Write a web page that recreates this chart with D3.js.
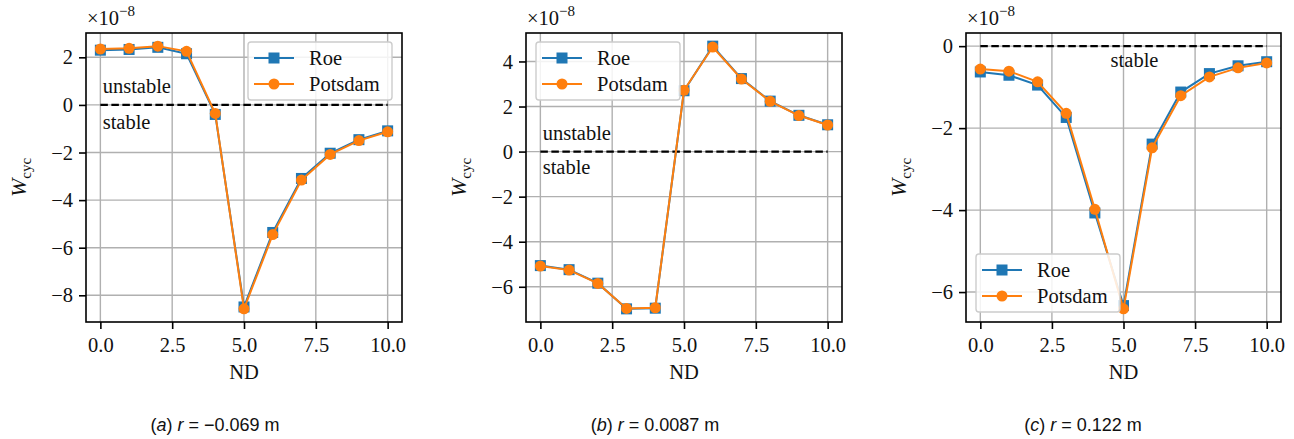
<!DOCTYPE html>
<html>
<head>
<meta charset="utf-8">
<style>
body {
  margin: 0;
  background: white;
}
svg {
  display: block;
}
.tick text, .lbl {
  font-family: "Liberation Serif", serif;
  font-size: 20.5px;
  fill: #111;
}
.cap {
  font-family: "Liberation Sans", Arial, sans-serif;
  font-size: 18px;
  fill: #111;
}
</style>
</head>
<body>
<script src="https://cdnjs.cloudflare.com/ajax/libs/d3/7.8.5/d3.min.js"></script>
<script>
var nd = [0, 1, 2, 3, 4, 5, 6, 7, 8, 9, 10]

// values are in units of 1e-8
var roeA = [2.30, 2.33, 2.42, 2.15, -0.40, -8.49, -5.36, -3.09, -2.03, -1.46, -1.09]
var potA = [2.35, 2.38, 2.47, 2.25, -0.36, -8.57, -5.45, -3.16, -2.08, -1.50, -1.13]
var roeB = [-5.06, -5.24, -5.84, -6.98, -6.95, 2.70, 4.68, 3.24, 2.24, 1.61, 1.19]
var potB = [-5.08, -5.26, -5.85, -6.96, -6.93, 2.72, 4.64, 3.22, 2.23, 1.60, 1.18]
var roeC = [-0.63, -0.71, -0.95, -1.74, -4.07, -6.33, -2.39, -1.12, -0.67, -0.48, -0.38]
var potC = [-0.56, -0.61, -0.87, -1.64, -3.98, -6.41, -2.48, -1.21, -0.75, -0.53, -0.41]

var xTicks = [0, 2.5, 5, 7.5, 10]
var yTicksA = [-8, -6, -4, -2, 0, 2]
var yTicksB = [-6, -4, -2, 0, 2, 4]
var yTicksC = [-6, -4, -2, 0]

var captions = [
  ["a", "−0.069"],
  ["b", "0.0087"],
  ["c", "0.122"]
]

var seriesNames = ["Roe", "Potsdam"]
var colors = ["#1f77b4", "#ff7f0e"]

var width = 1294, height = 439

var svg = d3.select("body").append("svg")
  .attr("width", width)
  .attr("height", height)

var panels = [
  {left: 86, right: 402, roe: roeA, pot: potA, yTicks: yTicksA,
   notes: [["unstable", 0.08, 0.5], ["stable", 0.08, -1.0]], legend: "top-right", cx: 215},
  {left: 526, right: 842, roe: roeB, pot: potB, yTicks: yTicksB,
   notes: [["unstable", 0.08, 0.5], ["stable", 0.08, -1.0]], legend: "top-left", cx: 655},
  {left: 966, right: 1281, roe: roeC, pot: potC, yTicks: yTicksC,
   notes: [["stable", 4.55, -0.5]], legend: "bottom-left", cx: 1083}
]

var plotTop = 33, plotBottom = 322

panels.forEach(function(p, i) {
  var all = p.roe.concat(p.pot).concat([0])
  var lo = d3.min(all), hi = d3.max(all), pad = (hi - lo) * 0.05

  var x = d3.scaleLinear().domain([-0.5, 10.5]).range([p.left, p.right])
  var y = d3.scaleLinear().domain([lo - pad, hi + pad]).range([plotBottom, plotTop])

  var g = svg.append("g")

  // grid
  g.selectAll(".gx").data(xTicks).enter().append("line")
    .attr("x1", function(d) { return x(d) }).attr("x2", function(d) { return x(d) })
    .attr("y1", plotTop).attr("y2", plotBottom)
    .attr("stroke", "#b0b0b0").attr("stroke-width", 1.4)
  g.selectAll(".gy").data(p.yTicks).enter().append("line")
    .attr("y1", function(d) { return y(d) }).attr("y2", function(d) { return y(d) })
    .attr("x1", p.left).attr("x2", p.right)
    .attr("stroke", "#b0b0b0").attr("stroke-width", 1.4)

  // zero line
  g.append("line")
    .attr("x1", x(0)).attr("x2", x(10))
    .attr("y1", y(0)).attr("y2", y(0))
    .attr("stroke", "black").attr("stroke-width", 2.2)
    .attr("stroke-dasharray", "7.5,3.5")

  p.notes.forEach(function(n) {
    g.append("text").attr("class", "lbl")
      .attr("x", x(n[1])).attr("y", y(n[2]))
      .text(n[0])
  })

  var line = d3.line()
    .x(function(d, j) { return x(nd[j]) })
    .y(function(d) { return y(d) })

  // Roe
  g.append("path").datum(p.roe).attr("d", line)
    .attr("fill", "none").attr("stroke", colors[0]).attr("stroke-width", 2)
  g.selectAll(".sq").data(p.roe).enter().append("rect")
    .attr("x", function(d, j) { return x(nd[j]) - 5.5 })
    .attr("y", function(d) { return y(d) - 5.5 })
    .attr("width", 11).attr("height", 11)
    .attr("fill", colors[0])

  // Potsdam
  g.append("path").datum(p.pot).attr("d", line)
    .attr("fill", "none").attr("stroke", colors[1]).attr("stroke-width", 2)
  g.selectAll(".ci").data(p.pot).enter().append("circle")
    .attr("cx", function(d, j) { return x(nd[j]) })
    .attr("cy", function(d) { return y(d) })
    .attr("r", 5.5)
    .attr("fill", colors[1])

  // frame
  g.append("rect")
    .attr("x", p.left).attr("y", plotTop)
    .attr("width", p.right - p.left).attr("height", plotBottom - plotTop)
    .attr("fill", "none").attr("stroke", "black").attr("stroke-width", 1.6)

  // axes
  var xAxis = g.append("g")
    .attr("transform", "translate(0," + plotBottom + ")")
    .call(d3.axisBottom(x).tickValues(xTicks).tickSize(7).tickPadding(6)
      .tickFormat(d3.format(".1f")))
  var yAxis = g.append("g")
    .attr("transform", "translate(" + p.left + ",0)")
    .call(d3.axisLeft(y).tickValues(p.yTicks).tickSize(7).tickPadding(6)
      .tickFormat(function(d) { return d < 0 ? "−" + Math.abs(d) : d }))
  ;[xAxis, yAxis].forEach(function(a) {
    a.select(".domain").remove()
    a.selectAll(".tick line").attr("stroke", "black").attr("stroke-width", 1.6)
    a.selectAll(".tick text").attr("font-family", null).attr("font-size", null)
  })
  xAxis.selectAll(".tick text").attr("dy", "0.85em")

  // offset text
  var off = g.append("text").attr("class", "lbl")
    .attr("x", p.left + 1).attr("y", 25)
  off.append("tspan").text("×10")
  off.append("tspan").attr("dy", -9).attr("font-size", 15).text("−8")

  // labels
  g.append("text").attr("class", "lbl")
    .attr("x", (p.left + p.right) / 2).attr("y", 379)
    .attr("text-anchor", "middle").text("ND")

  var yl = g.append("text").attr("class", "lbl")
    .attr("transform", "translate(" + (p.left - 60) + "," + ((plotTop + plotBottom) / 2) + ") rotate(-90)")
    .attr("text-anchor", "middle")
  yl.append("tspan").attr("font-style", "italic").attr("font-size", 22).text("W")
  yl.append("tspan").attr("dy", 5).attr("font-size", 15).text("cyc")

  // legend
  var lw = 144, lh = 58, lx, ly
  if (p.legend === "top-right") { lx = p.right - 10 - lw; ly = plotTop + 9 }
  if (p.legend === "top-left") { lx = p.left + 10; ly = plotTop + 9 }
  if (p.legend === "bottom-left") { lx = p.left + 10; ly = plotBottom - 10 - lh }
  var lg = g.append("g").attr("transform", "translate(" + lx + "," + ly + ")")
  lg.append("rect").attr("width", lw).attr("height", lh).attr("rx", 3)
    .attr("fill", "white").attr("fill-opacity", 0.85)
    .attr("stroke", "#cccccc").attr("stroke-width", 1.4)
  seriesNames.forEach(function(name, k) {
    var ry = 16 + k * 26
    lg.append("line").attr("x1", 6).attr("x2", 46).attr("y1", ry).attr("y2", ry)
      .attr("stroke", colors[k]).attr("stroke-width", 2)
    if (k === 0) {
      lg.append("rect").attr("x", 26 - 5.5).attr("y", ry - 5.5)
        .attr("width", 11).attr("height", 11).attr("fill", colors[k])
    } else {
      lg.append("circle").attr("cx", 26).attr("cy", ry).attr("r", 5.5).attr("fill", colors[k])
    }
    lg.append("text").attr("class", "lbl").attr("x", 61).attr("y", ry + 7).text(name)
  })

  // caption
  var cap = svg.append("text").attr("class", "cap")
    .attr("x", p.cx).attr("y", 431).attr("text-anchor", "middle")
  cap.append("tspan").text("(")
  cap.append("tspan").attr("font-style", "italic").text(captions[i][0])
  cap.append("tspan").text(") ")
  cap.append("tspan").attr("font-style", "italic").text("r")
  cap.append("tspan").text(" = " + captions[i][1] + " m")
})
</script>
</body>
</html>
